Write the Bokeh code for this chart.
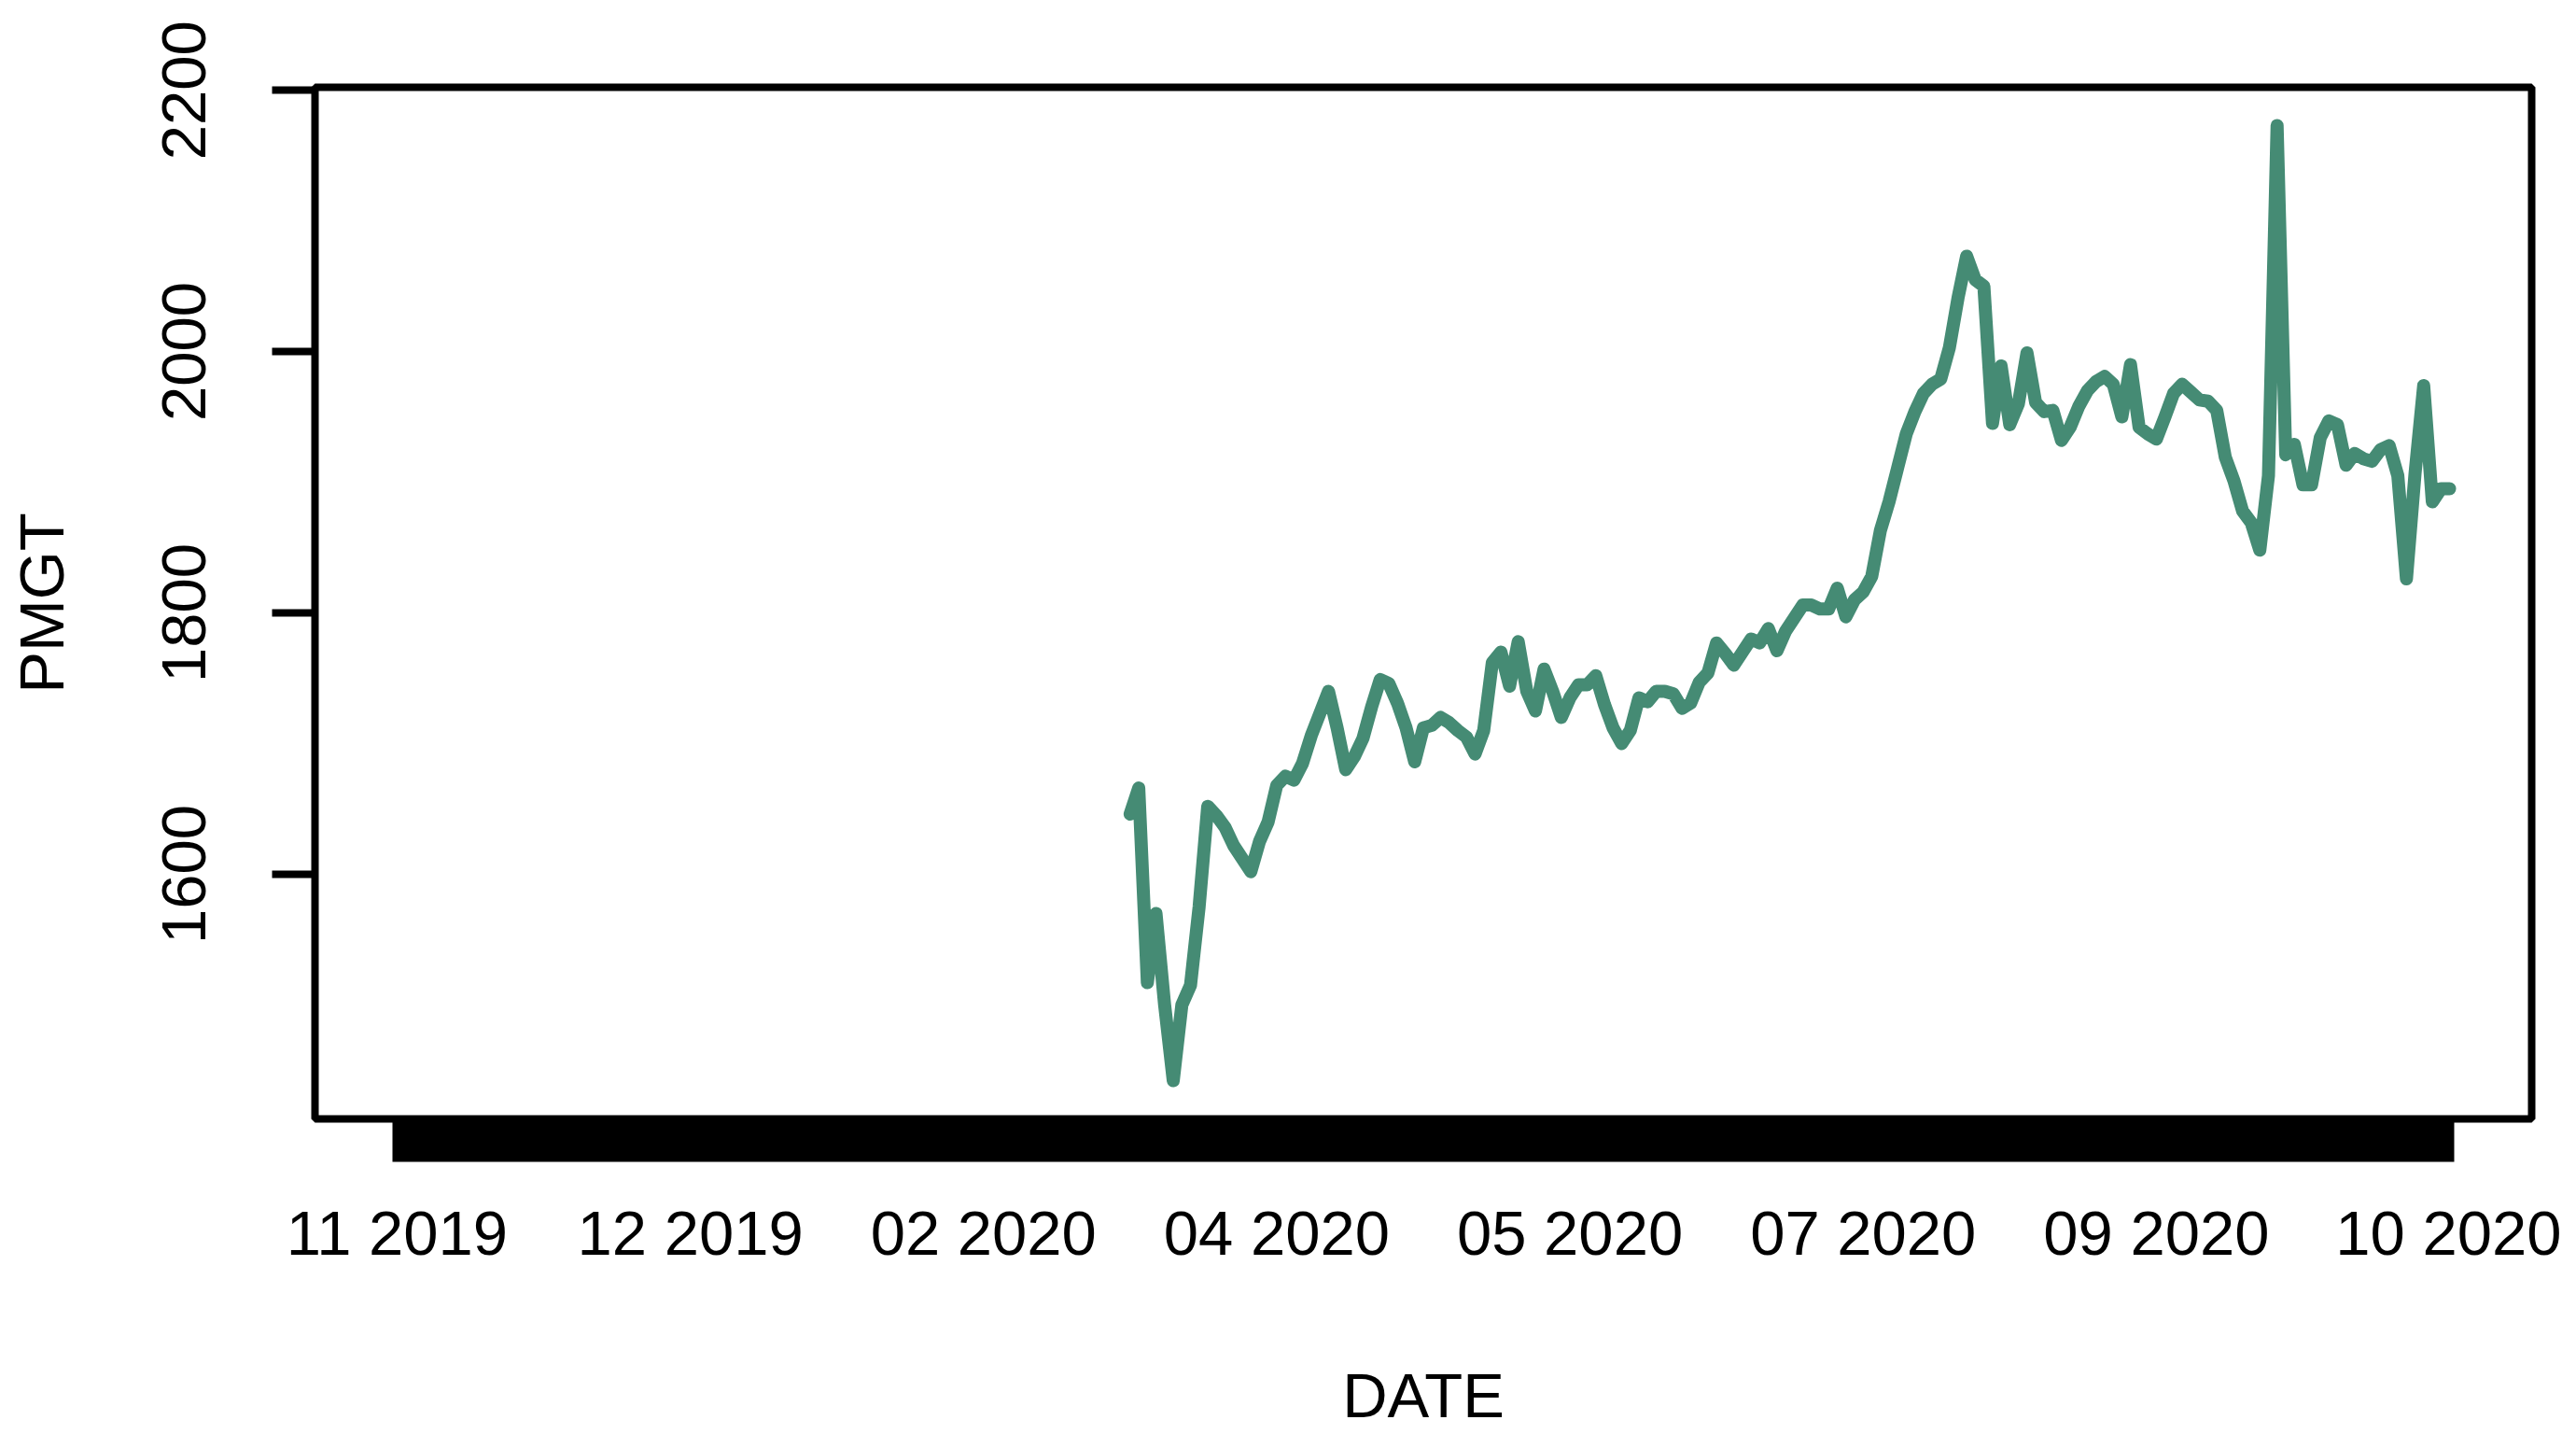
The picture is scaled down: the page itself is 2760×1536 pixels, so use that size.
from bokeh.plotting import figure
from bokeh.models import FixedTicker, Range1d
from bokeh.embed import file_html
from bokeh.resources import INLINE

# ---- data -------------------------------------------------------------
n_obs = 239                      # observations on the x axis (one tick each)
first_obs = 86                   # first observation with a PMGT value (earlier ones are NA)
label_obs = [1, 35, 69, 103, 137, 171, 205, 239]
label_text = ["11 2019", "12 2019", "02 2020", "04 2020",
              "05 2020", "07 2020", "09 2020", "10 2020"]
y_ticks = [1600, 1800, 2000, 2200]

pmgt = [
    1646, 1666, 1517, 1570, 1500, 1442, 1500, 1515, 1575, 1652,   # 86-95
    1645, 1636, 1622, 1612, 1602, 1625, 1640, 1668, 1675, 1672,   # 96-105
    1685, 1706, 1723, 1740, 1712, 1680, 1690, 1704, 1728, 1749,   # 106-115
    1746, 1731, 1712, 1686, 1712, 1714, 1720, 1716, 1710, 1705,   # 116-125
    1692, 1710, 1762, 1770, 1744, 1778, 1740, 1725, 1757, 1740,   # 126-135
    1720, 1735, 1745, 1745, 1752, 1730, 1712, 1700, 1710, 1735,   # 136-145
    1732, 1740, 1740, 1738, 1727, 1731, 1747, 1754, 1777, 1769,   # 146-155
    1760, 1770, 1780, 1777, 1788, 1771, 1786, 1796, 1806, 1806,   # 156-165
    1803, 1803, 1819, 1797, 1810, 1816, 1828, 1863, 1885, 1911,   # 166-175
    1937, 1954, 1968, 1975, 1979, 2003, 2041, 2073, 2055, 2050,   # 176-185
    1945, 1989, 1944, 1960, 1999, 1961, 1954, 1955, 1932, 1942,   # 186-195
    1958, 1970, 1977, 1981, 1975, 1950, 1990, 1942, 1937, 1933,   # 196-205
    1950, 1968, 1975, 1969, 1963, 1962, 1955, 1919, 1901, 1878,   # 206-215
    1869, 1848, 1905, 2173, 1921, 1929, 1898, 1898, 1934, 1947,   # 216-225
    1944, 1913, 1922, 1918, 1916, 1925, 1928, 1905, 1826, 1907,   # 226-235
    1974, 1885, 1895, 1895,                                       # 236-239
]

# ---- figure -----------------------------------------------------------
obs = list(range(first_obs, first_obs + len(pmgt)))
xpad = 0.04 * (n_obs - 1)
ypad = 0.04 * (max(pmgt) - min(pmgt))

FONT = "Liberation Sans"
FS = "67px"

p = figure(output_backend="svg", toolbar_location=None,
           frame_width=2375, frame_height=1105,
           x_range=Range1d(1 - xpad, n_obs + xpad),
           y_range=Range1d(min(pmgt) - ypad, max(pmgt) + ypad),
           min_border_left=337, min_border_right=32,
           min_border_top=93, min_border_bottom=322)
p.background_fill_color = "white"
p.border_fill_color = "white"
p.grid.visible = False
p.outline_line_color = "black"
p.outline_line_width = 8
p.outline_line_alpha = 1.0

p.line(obs, pmgt, line_color="#458B74", line_width=14, line_join="round", line_cap="round")

# x axis: a tick for every observation, labels at a few of them
xa = p.xaxis[0]
xa.ticker = FixedTicker(ticks=list(range(1, n_obs + 1)))
overrides = {i: "" for i in range(1, n_obs + 1)}
for i, t in zip(label_obs, label_text):
    overrides[i] = t
xa.major_label_overrides = overrides
xa.axis_line_color = None
xa.major_tick_line_color = "black"
xa.major_tick_line_width = 10
xa.major_tick_out = 46
xa.major_tick_in = 0
xa.minor_tick_line_color = None
xa.major_label_standoff = 38
xa.major_label_text_font = FONT
xa.major_label_text_font_size = FS
xa.major_label_text_color = "black"
xa.axis_label = "DATE"
xa.axis_label_text_font = FONT
xa.axis_label_text_font_size = FS
xa.axis_label_text_font_style = "normal"
xa.axis_label_text_color = "black"
xa.axis_label_standoff = 96

ya = p.yaxis[0]
ya.ticker = FixedTicker(ticks=y_ticks)
ya.axis_line_color = None
ya.major_tick_line_color = "black"
ya.major_tick_line_width = 8
ya.major_tick_out = 46
ya.major_tick_in = 0
ya.minor_tick_line_color = None
ya.major_label_orientation = "vertical"
ya.major_label_standoff = 71
ya.major_label_text_font = FONT
ya.major_label_text_font_size = FS
ya.major_label_text_color = "black"
ya.axis_label = "PMGT"
ya.axis_label_text_font = FONT
ya.axis_label_text_font_size = FS
ya.axis_label_text_font_style = "normal"
ya.axis_label_text_color = "black"
ya.axis_label_standoff = 90

open("out.html", "w").write(file_html(p, INLINE))
